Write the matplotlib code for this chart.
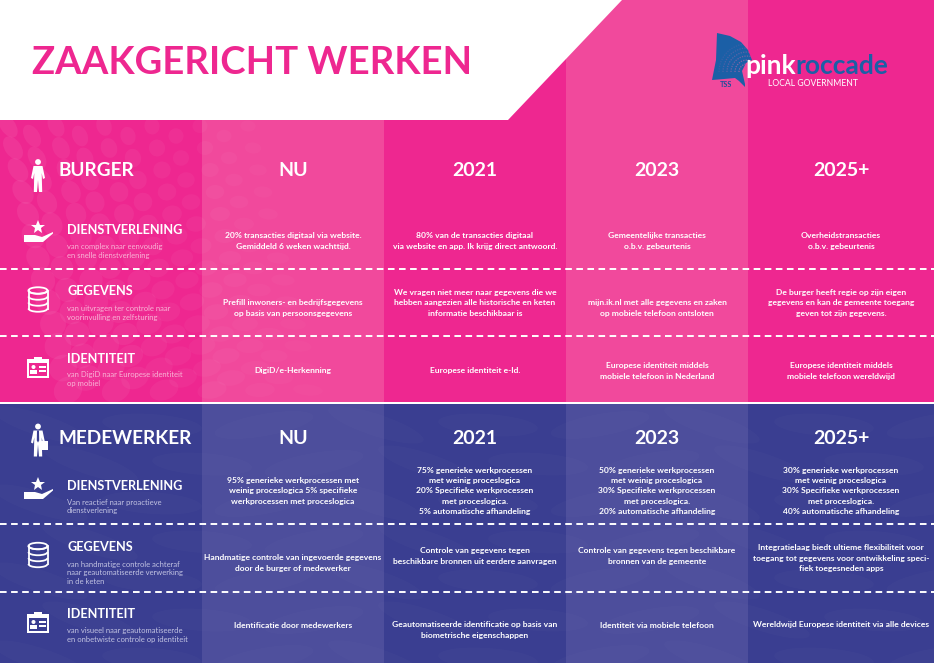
import numpy as np
from matplotlib import pylab as plt
from matplotlib.patches import Polygon, Rectangle, Ellipse, Circle, Arc

#----------Teksten--------------

title = "ZAAKGERICHT WERKEN"
periods = ["NU", "2021", "2023", "2025+"]

burger_rows = ["DIENSTVERLENING", "GEGEVENS", "IDENTITEIT"]
burger_subs = [
    ["van complex naar eenvoudig", "en snelle dienstverlening"],
    ["van uitvragen ter controle naar", "voorinvulling en zelfsturing"],
    ["van DigiD naar Europese identiteit", "op mobiel"],
]
burger_cells = [
    [["20% transacties digitaal via website.", "Gemiddeld 6 weken wachttijd."],
     ["80% van de transacties digitaal", "via website en app. Ik krijg direct antwoord."],
     ["Gemeentelijke transacties", "o.b.v. gebeurtenis"],
     ["Overheidstransacties", "o.b.v. gebeurtenis"]],
    [["Prefill inwoners- en bedrijfsgegevens", "op basis van persoonsgegevens"],
     ["We vragen niet meer naar gegevens die we", "hebben aangezien alle historische en keten", "informatie beschikbaar is"],
     ["mijn.ik.nl met alle gegevens en zaken", "op mobiele telefoon ontsloten"],
     ["De burger heeft regie op zijn eigen", "gegevens en kan de gemeente toegang", "geven tot zijn gegevens."]],
    [["DigiD/e-Herkenning"],
     ["Europese identiteit e-Id."],
     ["Europese identiteit middels", "mobiele telefoon in Nederland"],
     ["Europese identiteit middels", "mobiele telefoon wereldwijd"]],
]

medewerker_subs = [
    ["Van reactief naar proactieve", "dienstverlening"],
    ["van handmatige controle achteraf", "naar geautomatiseerde verwerking", "in de keten"],
    ["van visueel naar geautomatiseerde", "en onbetwiste controle op identiteit"],
]
medewerker_cells = [
    [["95% generieke werkprocessen met", "weinig proceslogica 5% specifieke", "werkprocessen met proceslogica"],
     ["75% generieke werkprocessen", "met weinig proceslogica", "20% Specifieke werkprocessen", "met proceslogica.", "5% automatische afhandeling"],
     ["50% generieke werkprocessen", "met weinig proceslogica", "30% Specifieke werkprocessen", "met proceslogica.", "20% automatische afhandeling"],
     ["30% generieke werkprocessen", "met weinig proceslogica", "30% Specifieke werkprocessen", "met proceslogica.", "40% automatische afhandeling"]],
    [["Handmatige controle van ingevoerde gegevens", "door de burger of medewerker"],
     ["Controle van gegevens tegen", "beschikbare bronnen uit eerdere aanvragen"],
     ["Controle van gegevens tegen beschikbare", "bronnen van de gemeente"],
     ["Integratielaag biedt ultieme flexibiliteit voor", "toegang tot gegevens voor ontwikkeling speci-", "fiek toegesneden apps"]],
    [["Identificatie door medewerkers"],
     ["Geautomatiseerde identificatie op basis van", "biometrische eigenschappen"],
     ["Identiteit via mobiele telefoon"],
     ["Wereldwijd Europese identiteit via alle devices"]],
]

#----------Kleuren en maten--------------

PINK = "#EE2790"
PINK_L = "#F1499C"
BLUE = "#3A3E91"
BLUE_L = "#4D4E9C"
BLUE_LOGO = "#1B5FA6"
FONT = "Lato"

col_edges = [0, 202, 384, 566, 748, 934]
col_mid = [293, 475, 657, 841]

fig = plt.figure(figsize=(9.34, 6.63), dpi=100)
ax = fig.add_axes([0, 0, 1, 1])
ax.set_xlim(0, 934)
ax.set_ylim(663, 0)
ax.axis("off")

def label(x, y, s, size, color="white", weight="bold", ha="left"):
    ax.text(x, y, s, fontsize=size, color=color, fontweight=weight, ha=ha, va="center",
            family=FONT, zorder=6)

def cell(x, y, lines):
    n = len(lines)
    for i, line in enumerate(lines):
        label(x, y + (i - (n - 1) / 2) * 10.3, line, 6.1, ha="center")

def subtext(x, y, lines, color):
    for i, line in enumerate(lines):
        label(x, y + i * 8.7, line, 5.5, color=color, weight="normal")

#---------------Achtergrond------------------

def panel(y0, y1, base, light):
    for i in range(5):
        c = light if i % 2 == 1 else base
        ax.add_patch(Rectangle((col_edges[i], y0), col_edges[i + 1] - col_edges[i], y1 - y0,
                               color=c, lw=0, zorder=1))

panel(0, 402, PINK, PINK_L)
panel(404, 663, BLUE, BLUE_L)
ax.add_patch(Rectangle((0, 402), 934, 2, color="white", lw=0, zorder=2))
ax.add_patch(Polygon([(0, 0), (622, 0), (508, 120), (0, 120)], color="white", lw=0, zorder=3))

# stippen links in het roze vlak
for i in range(11):
    for j in range(13):
        x = 8 + i * 24 + j * 5
        y = 126 + j * 22 + (i % 2) * 10
        if x > 340 or y > 398:
            continue
        w = 15 + j * 1.2
        h = 26 - i * 1.5
        alpha = 0.06 * (1 - x / 360) + 0.01
        ax.add_patch(Ellipse((x, y), w, max(h, 6), angle=-35 + i * 4, color="white",
                             alpha=alpha, lw=0, zorder=2))

# vlekken in het blauwe vlak
for i in range(9):
    for j in range(7):
        x = 40 + i * 112 + (j % 2) * 50
        y = 425 + j * 39
        ax.add_patch(Ellipse((x, y), 100, 22, angle=18 - (i % 3) * 14, color="white",
                             alpha=0.014, lw=0, zorder=2))

#---------------Lijnen------------------

for y in [269, 336, 524, 592]:
    ax.plot([0, 934], [y, y], color="white", lw=1.4, dashes=(3.4, 2.3), zorder=5)

#---------------Iconen------------------

def person(x, y, tie=False):
    ax.add_patch(Circle((x, y - 13), 2.9, color="white", lw=0, zorder=6))
    body = [(x - 4.5, y - 9), (x + 4.5, y - 9), (x + 7, y + 3), (x + 5, y + 4), (x + 3.7, y - 2),
            (x + 4.2, y + 17), (x + 1, y + 17), (x, y + 5), (x - 1, y + 17), (x - 4.2, y + 17),
            (x - 3.7, y - 2), (x - 5, y + 4), (x - 7, y + 3)]
    ax.add_patch(Polygon(body, color="white", lw=0, zorder=6))
    if tie:
        ax.add_patch(Polygon([(x - 1, y - 9), (x + 1, y - 9), (x + 1.2, y + 1), (x, y + 3), (x - 1.2, y + 1)],
                             color=BLUE, lw=0, zorder=7))
        ax.add_patch(Rectangle((x + 3, y + 1), 6.5, 9, color="white", lw=0, zorder=6))

def hand(x, y):
    ax.plot([x], [y - 7], marker="*", ms=10.5, color="white", mew=0, zorder=6)
    pts = [(x - 14, y + 1), (x - 3, y + 1), (x + 4, y + 3), (x + 15, y - 2), (x + 15, y - 0.5),
           (x + 5, y + 8), (x - 14, y + 8)]
    ax.add_patch(Polygon(pts, color="white", lw=0, zorder=6))

def database(x, y):
    ax.add_patch(Ellipse((x, y - 9), 19, 6.5, fill=False, ec="white", lw=1.3, zorder=6))
    for dy in [-9, -3, 3, 9]:
        ax.add_patch(Arc((x, y + dy), 19, 6.5, theta1=0, theta2=180, ec="white", lw=1.3, zorder=6))
    ax.plot([x - 9.5, x - 9.5], [y - 9, y + 9], color="white", lw=1.3, zorder=6)
    ax.plot([x + 9.5, x + 9.5], [y - 9, y + 9], color="white", lw=1.3, zorder=6)

def idcard(x, y, bg):
    ax.add_patch(Rectangle((x - 11, y - 9), 22, 19, color="white", lw=0, zorder=6))
    ax.add_patch(Rectangle((x - 9, y - 5.5), 18, 13.5, color=bg, lw=0, zorder=7))
    ax.add_patch(Rectangle((x - 4, y - 11), 8, 5, color="white", lw=0, zorder=8))
    ax.add_patch(Circle((x - 4.5, y - 1), 2, color="white", lw=0, zorder=8))
    ax.add_patch(Rectangle((x - 8, y + 2), 7, 4, color="white", lw=0, zorder=8))
    ax.add_patch(Rectangle((x + 1, y - 2), 6.5, 1.6, color="white", lw=0, zorder=8))
    ax.add_patch(Rectangle((x + 1, y + 2), 6.5, 1.6, color="white", lw=0, zorder=8))

#---------------Titel en logo------------------

label(32, 63, title, 27.5, color=PINK)

fan = Polygon([(717, 33), (730, 36), (741, 42), (748, 50), (752, 60), (746, 63), (742, 71), (745, 84),
               (745, 87), (739, 81), (735, 78), (724, 79), (712, 80), (716, 60)],
              color=BLUE_LOGO, lw=0, zorder=4)
ax.add_patch(fan)
for r in [8, 12, 16, 20, 24, 28]:
    ring = Arc((747, 72), 2 * r, 2 * r, theta1=180, theta2=320, ec="#F06BA8", lw=0.9,
               alpha=0.75 - r * 0.022, ls=(0, (1, 1)), zorder=5)
    ax.add_patch(ring)
    ring.set_clip_path(fan)
label(745, 66, "pink", 19)
label(795, 66, "roccade", 19, color=BLUE_LOGO)
label(768, 84, "LOCAL GOVERNMENT", 6.2, weight="normal")
label(720, 84.5, "TSS", 5.2, color="#1B4E9A")

#-------------------Blokken--------------------

def block(head, head_y, rows, subs, cells, cell_y, row_y, sub_y, icon_y, person_y, sub_color, bg, tie):
    person(38, person_y, tie)
    label(59, head_y, head, 13.7)
    for x, p in zip(col_mid, periods):
        label(x, head_y, p, 14, ha="center")
    hand(38, icon_y[0])
    database(38, icon_y[1])
    idcard(38, icon_y[2], bg)
    for r in range(3):
        label(67, row_y[r], rows[r], 9.1)
        subtext(67, sub_y[r], subs[r], sub_color)
        for c in range(4):
            cell(col_mid[c], cell_y[r][c], cells[r][c])

block("BURGER", 171, burger_rows, burger_subs, burger_cells,
      [[241, 241, 241, 241], [308, 303, 308, 303], [370, 370, 371, 371]],
      [230, 291, 359], [247, 309, 375], [234, 299.5, 368], 175, "#F9B4D6", PINK, False)

block("MEDEWERKER", 438, burger_rows, medewerker_subs, medewerker_cells,
      [[491, 491, 491, 491], [563, 556, 556, 558], [625, 630, 625, 625]],
      [486, 547, 614], [502, 564, 631], [491, 555, 623], 439.5, "#C2C3E2", BLUE, True)

plt.savefig("out.png", dpi=100)
